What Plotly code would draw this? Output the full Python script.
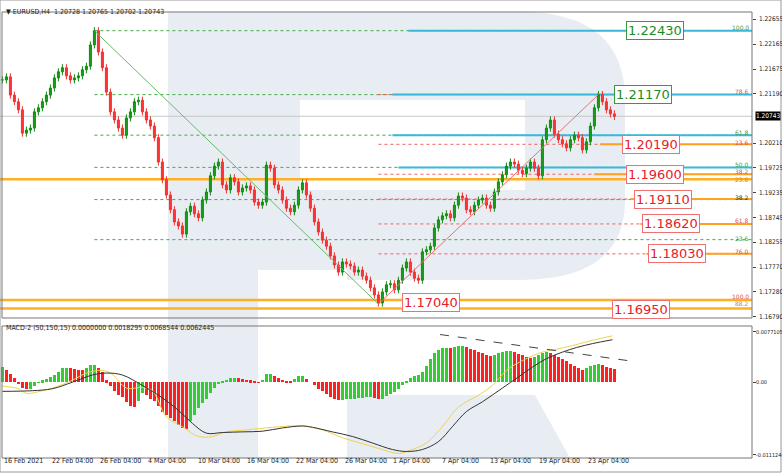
import plotly.graph_objects as go

W, H = 782, 473

# close prices, one every 8 hours (Feb 16 -> Apr 26 2021)
closes = [1.2146, 1.2152, 1.2116, 1.2103, 1.2087, 1.2041, 1.2047, 1.2051, 1.2083, 1.2091,
          1.2103, 1.2116, 1.2130, 1.2150, 1.2162, 1.2170, 1.2154, 1.2146, 1.2150, 1.2154,
          1.2166, 1.2173, 1.2215, 1.2243, 1.2201, 1.2170, 1.2122, 1.2083, 1.2067, 1.2051,
          1.2037, 1.2071, 1.2083, 1.2103, 1.2106, 1.2083, 1.2067, 1.2055, 1.2032, 1.1984,
          1.1949, 1.1919, 1.1890, 1.1866, 1.1858, 1.1842, 1.1886, 1.1897, 1.1882, 1.1874,
          1.1909, 1.1925, 1.1957, 1.1976, 1.1984, 1.1939, 1.1929, 1.1953, 1.1945, 1.1925,
          1.1933, 1.1937, 1.1929, 1.1905, 1.1899, 1.1905, 1.1978, 1.1972, 1.1939, 1.1929,
          1.1909, 1.1893, 1.1886, 1.1899, 1.1929, 1.1943, 1.1919, 1.1893, 1.1866, 1.1846,
          1.1830, 1.1818, 1.1799, 1.1781, 1.1767, 1.1787, 1.1783, 1.1779, 1.1767, 1.1771,
          1.1759, 1.1751, 1.1736, 1.1722, 1.1706, 1.1728, 1.1742, 1.1744, 1.1732, 1.1751,
          1.1775, 1.1787, 1.1767, 1.1755, 1.1751, 1.1807, 1.1811, 1.1818, 1.1854, 1.1870,
          1.1878, 1.1882, 1.1874, 1.1899, 1.1917, 1.1913, 1.1890, 1.1886, 1.1899, 1.1909,
          1.1913, 1.1899, 1.1893, 1.1925, 1.1945, 1.1959, 1.1976, 1.1984, 1.1980, 1.1968,
          1.1961, 1.1972, 1.1984, 1.1972, 1.1957, 1.2028, 1.2051, 1.2067, 1.2039, 1.2028,
          1.2020, 1.2012, 1.2028, 1.2037, 1.2032, 1.2008, 1.2024, 1.2055, 1.2091, 1.2117,
          1.2103, 1.2087, 1.2079, 1.2074]

# MACD histogram, same 8h steps
hist = [.0023, .0018, .0012, .0006, -.0003, -.0009, -.0011, -.0010, -.0006, -.0001,
        .0003, .0005, .0008, .0011, .0016, .0021, .0022, .0021, .0020, .0019,
        .0018, .0022, .0026, .0027, .0022, .0015, .0003, -.0006, -.0013, -.0019,
        -.0023, -.0030, -.0036, -.0038, -.0029, -.0017, -.0020, -.0025, -.0028, -.0036,
        -.0045, -.0050, -.0055, -.0060, -.0065, -.0070, -.0072, -.0060, -.0050, -.0040,
        -.0032, -.0025, -.0016, -.0009, -.0003, .0002, .0004, .0006, .0007, .0006,
        .0005, .0004, .0003, .0001, -.0001, .0004, .0012, .0013, .0009, .0007,
        .0004, .0002, .0001, .0005, .0009, .0009, .0005, .0000, -.0005, -.0010,
        -.0013, -.0018, -.0023, -.0025, -.0027, -.0027, -.0026, -.0026, -.0025, -.0024,
        -.0024, -.0023, -.0023, -.0024, -.0026, -.0025, -.0021, -.0018, -.0015, -.0010,
        -.0005, .0002, .0007, .0009, .0011, .0015, .0025, .0036, .0044, .0049,
        .0052, .0053, .0052, .0054, .0056, .0056, .0054, .0051, .0049, .0046,
        .0044, .0042, .0040, .0042, .0045, .0046, .0047, .0047, .0046, .0043,
        .0041, .0039, .0037, .0039, .0042, .0044, .0046, .0045, .0042, .0038,
        .0036, .0032, .0028, .0025, .0021, .0019, .0021, .0025, .0027, .0028,
        .0027, .0024, .0021, .0020]

macd_x = [0, 7.5, 12.5, 17.5, 22.5, 26, 30, 35, 40, 44, 47.5, 51, 55, 60, 65, 70, 75, 77.5,
          82.5, 87.5, 92.5, 97.5, 101, 105, 109, 112.5, 116, 120, 125, 129, 132.5, 136, 140,
          143.5, 147.5, 152.5]
macd_y = [-.0014, -.0013, -.0010, 0.0, .0011, .0014, .0011, -.0005, -.0024, -.0043, -.0063,
          -.0078, -.0077, -.0076, -.0075, -.0070, -.0067, -.0069, -.0076, -.0083, -.0093,
          -.0103, -.0106, -.0103, -.0091, -.0068, -.0045, -.0030, -.0009, .0008, .0023,
          .0036, .0046, .0053, .0059, .0065]
sig_x = [0, 4, 6, 10, 14, 17.5, 21, 25, 27.5, 31, 35, 37.5, 41, 45, 49, 52.5, 56, 61, 67.5,
         75, 80, 85, 90, 95, 99, 102.5, 106, 110, 114, 119, 122.5, 126, 130, 135, 139,
         142.5, 147.5, 152.5]
sig_y = [-.0006, -.0010, -.0017, -.0013, -.0006, .0003, .0014, .0018, .0012, -.0009, -.0008,
         -.0013, -.0053, -.0068, -.0083, -.0083, -.0076, -.0073, -.0069, -.0067, -.0073,
         -.0085, -.0094, -.0103, -.0109, -.0103, -.0093, -.0068, -.0038, -.0020, -.0005,
         .0018, .0033, .0046, .0051, .0056, .0064, .0071]
div_x = [109.4, 156.4]
div_y = [.0073, .0033]

date_pos = [0, 11.9, 23.9, 35.9, 48.4, 60.6, 72.9, 85.1, 97.1, 109.4, 121.4, 133.6, 145.9]
date_text = ["16 Feb 2021", "22 Feb 04:00", "26 Feb 04:00", "4 Mar 04:00", "10 Mar 04:00",
             "16 Mar 04:00", "22 Mar 04:00", "26 Mar 04:00", "1 Apr 04:00", "7 Apr 04:00",
             "13 Apr 04:00", "19 Apr 04:00", "23 Apr 04:00"]
price_ticks = [1.22655, 1.22165, 1.21675, 1.21190, 1.20210, 1.19725, 1.19235, 1.18745,
               1.18255, 1.17770, 1.17280, 1.16790]
price_labels = ["1.22655", "1.22165", "1.21675", "1.21190", "1.20210", "1.19725", "1.19235",
                "1.18745", "1.18255", "1.17770", "1.17280", "1.16790"]
macd_ticks = [0.0077105, 0, -0.011124]
macd_labels = ["0.0077105", "0.00", "-0.0111240"]

peak_i, peak_p = 23, 1.2243
low_i, low_p = 94, 1.1704
top_i, top_p = 149, 1.2117
last_price = 1.20743

green_fib = [1.2243, 1.2117, 1.2037, 1.19735, 1.1910, 1.1831, 1.1713]
red_fib = [1.2117, 1.2019, 1.1960, 1.1911, 1.1862, 1.1803]
cyan_lvls = [(1.2243, 101.5), (1.2117, 97.5), (1.2037, 97.5), (1.19735, 99)]
orange_lvls = [(1.2019, 149.5), (1.1960, 148), (1.1911, 157), (1.1862, 159.5),
               (1.1803, 161)]
orange_full = [1.1950, 1.1712, 1.1695]
boxes = [(1.2243, 156, "1.22430", "#1f8a1f", "#3a9a3a"),
         (1.2117, 153, "1.21170", "#1f8a1f", "#3a9a3a"),
         (1.2019, 155, "1.20190", "#e8202a", "#f07070"),
         (1.1960, 156, "1.19600", "#e8202a", "#f07070"),
         (1.1911, 158, "1.19110", "#e8202a", "#f07070"),
         (1.1862, 160, "1.18620", "#e8202a", "#f07070"),
         (1.1803, 161.5, "1.18030", "#e8202a", "#f07070"),
         (1.1693, 152.5, "1.16950", "#e8202a", "#f07070"),
         (1.1708, 100, "1.17040", "#e8202a", "#f07070")]
small = [(1.2249, "100.0", "#3a9a3a"), (1.2124, "78.6", "#e05050"), (1.2042, "61.8", "#3a9a3a"),
         (1.2022, "23.6", "#e05050"), (1.1980, "50.0", "#3a9a3a"), (1.1966, "38.2", "#e05050"),
         (1.1950, "23.6", "#e08a00"), (1.1914, "38.2", "#333333"), (1.1868, "61.8", "#e05050"),
         (1.1834, "23.6", "#3a9a3a"), (1.1807, "76.0", "#e05050"), (1.1718, "100.0", "#e05050"),
         (1.1706, "88.2", "#e08a00")]

opens = [closes[0]] + closes[:-1]
highs = [max(o, c) + 0.0007 for o, c in zip(opens, closes)]
lows = [min(o, c) - 0.0007 for o, c in zip(opens, closes)]
idx = list(range(len(closes)))
XEND = 187.4
SMALLFONT = "DejaVu Sans Condensed, Liberation Sans Narrow, DejaVu Sans"

fig = go.Figure()

def px(x, y):
    return x / W, 1 - y / H

shade = "#e8edf4"
shapes = []
def prect(x0, y0, x1, y1, color, layer="below", line=None):
    a, b = px(x0, y0)
    c, d = px(x1, y1)
    shapes.append(dict(type="rect", xref="paper", yref="paper", x0=a, y0=d, x1=c, y1=b,
                       fillcolor=color, line=line or dict(width=0), layer=layer))

# watermark "R"
prect(168, 12, 258, 458, shade)
bx0, by0 = px(258, 12)
bx1, by1 = px(560, 280)
shapes.append(dict(type="path", xref="paper", yref="paper", layer="below",
                   fillcolor=shade, line=dict(width=0),
                   path="M %f,%f L %f,%f Q %f,%f %f,%f L %f,%f Q %f,%f %f,%f L %f,%f Z" % (
                       bx0, by0, 520 / W, by0, 625 / W, by0, 625 / W, 1 - 100 / H,
                       625 / W, 1 - 200 / H, 625 / W, by1, 520 / W, by1, bx0, by1)))
prect(300, 100, 525, 190, "white")
prect(258, 270, 347, 320, "white")
a, b = px(347, 395)
shapes.append(dict(type="path", xref="paper", yref="paper", layer="below", fillcolor=shade,
                   line=dict(width=0),
                   path="M %f,%f L %f,%f L %f,%f L %f,%f Z" % (
                       a, b, 535 / W, b, 570 / W, 1 - 458 / H, a, 1 - 458 / H)))
prect(347, 280, 620, 320, "white")

def hline(p, x0, color, dash="solid", width=1):
    shapes.append(dict(type="line", xref="x", yref="y", x0=x0, x1=XEND, y0=p, y1=p,
                       line=dict(color=color, dash=dash, width=width), layer="below"))

for p in green_fib:
    hline(p, peak_i, "#44aa44", "dot")
for p in red_fib:
    hline(p, low_i, "#f06060", "dot")
for p, s in cyan_lvls:
    hline(p, s, "#3ab8dc", width=2)
for p, s in orange_lvls:
    hline(p, s, "#ffa020", width=2)
for p in orange_full:
    hline(p, -0.6, "#ffb020", width=2.5)
hline(last_price, -0.6, "#c8c8c8")

shapes.append(dict(type="line", xref="x", yref="y", x0=peak_i, y0=peak_p, x1=low_i, y1=low_p,
                   line=dict(color="#66bb66", width=1)))
shapes.append(dict(type="line", xref="x", yref="y", x0=low_i, y0=low_p, x1=top_i, y1=top_p,
                   line=dict(color="#f07070", width=1)))

# panel frames
prect(2, 12, 752, 318, "rgba(0,0,0,0)", "above", dict(color="#777", width=1))
prect(2, 326, 752, 458, "rgba(0,0,0,0)", "above", dict(color="#777", width=1))
prect(0, 0, 781, 472, "rgba(0,0,0,0)", "above", dict(color="#999", width=1))

fig.add_trace(go.Candlestick(x=idx, open=opens, high=highs, low=lows, close=closes,
                             increasing=dict(line=dict(color="#128a12", width=1), fillcolor="#1aa01a"),
                             decreasing=dict(line=dict(color="#f03030", width=1), fillcolor="#ff3535"),
                             whiskerwidth=0, showlegend=False, hoverinfo="skip"))

bar_cols = ["#33cc33" if i == 0 or hist[i] >= hist[i - 1] else "#ff2020" for i in range(len(hist))]
fig.add_trace(go.Bar(x=idx, y=hist, marker=dict(color=bar_cols, line=dict(width=0)),
                     width=0.8, xaxis="x2", yaxis="y2", showlegend=False))
fig.add_trace(go.Scatter(x=sig_x, y=sig_y, mode="lines", line=dict(color="#f2d24a", width=1),
                         line_shape="spline", xaxis="x2", yaxis="y2", showlegend=False))
fig.add_trace(go.Scatter(x=macd_x, y=macd_y, mode="lines", line=dict(color="#333333", width=1),
                         line_shape="spline", xaxis="x2", yaxis="y2", showlegend=False))
fig.add_trace(go.Scatter(x=div_x, y=div_y, mode="lines",
                         line=dict(color="#444444", width=1, dash="dash"),
                         xaxis="x2", yaxis="y2", showlegend=False))

ann = []
for p, x, t, fc, bc in boxes:
    ann.append(dict(x=x, y=p, xref="x", yref="y", text=t, showarrow=False, xanchor="left",
                    font=dict(size=13, color=fc, family="DejaVu Sans"), bgcolor="white",
                    bordercolor=bc, borderwidth=1, borderpad=1))
for p, t, c in small:
    ann.append(dict(x=XEND - 0.3, y=p, xref="x", yref="y", text=t, showarrow=False,
                    xanchor="right", font=dict(size=6, color=c)))
for p_, t in zip(date_pos, date_text):
    ann.append(dict(x=p_, y=1 - 467 / H, xref="x2", yref="paper", text=t, showarrow=False,
                    xanchor="left", font=dict(size=7, color="#222", family=SMALLFONT)))
# right-hand scale labels as text
for v, t in zip(price_ticks, price_labels):
    ann.append(dict(x=757 / W, y=v, xref="paper", yref="y", text=t, showarrow=False,
                    xanchor="left", font=dict(size=6.5, color="#222", family=SMALLFONT)))
for v, t in zip(macd_ticks, macd_labels):
    ann.append(dict(x=754 / W, y=v, xref="paper", yref="y2", text=t, showarrow=False,
                    xanchor="left", font=dict(size=5.5, color="#222", family=SMALLFONT)))
ann.append(dict(x=4 / W, y=1 - 6 / H, xref="paper", yref="paper", showarrow=False,
                xanchor="left", text="▼ EURUSD,H4  1.20728 1.20765 1.20702 1.20743",
                font=dict(size=7, color="#222", family=SMALLFONT)))
ann.append(dict(x=4 / W, y=1 - 334 / H, xref="paper", yref="paper", showarrow=False,
                xanchor="left", text="MACD-2 (50,150,15) 0.0000000 0.0018295 0.0068544 0.0062445",
                font=dict(size=7, color="#222", family=SMALLFONT)))
ann.append(dict(x=755 / W, y=last_price, xref="paper", yref="y", showarrow=False,
                xanchor="left", text="1.20743", bgcolor="black",
                font=dict(size=6.5, color="white", family=SMALLFONT), borderpad=0))

fig.update_layout(
    width=W, height=H, margin=dict(l=0, r=0, t=0, b=0),
    paper_bgcolor="white", plot_bgcolor="rgba(0,0,0,0)",
    font=dict(family="DejaVu Sans", size=8, color="#222"),
    shapes=shapes, annotations=ann, bargap=0,
    xaxis=dict(domain=[0, 752 / W], range=[-0.6, XEND], showticklabels=False, showgrid=False,
               zeroline=False, rangeslider=dict(visible=False), anchor="y"),
    xaxis2=dict(domain=[0, 752 / W], range=[-0.6, XEND], showticklabels=False, showgrid=False,
                zeroline=False, anchor="y2", matches="x"),
    yaxis=dict(domain=[1 - 318 / H, 1 - 12 / H], range=[1.16765, 1.22799], side="right",
               tickvals=price_ticks, showticklabels=False,
               showgrid=False, zeroline=False, ticks="outside", ticklen=3, anchor="x"),
    yaxis2=dict(domain=[1 - 458 / H, 1 - 326 / H], range=[-0.0116, 0.0086], side="right",
                tickvals=macd_ticks, showticklabels=False,
                showgrid=False, zeroline=False, ticks="outside", ticklen=3, anchor="x2"),
)

# the page's default body margin would push the chart 8px right
fig.write_html("out.html", config=dict(displayModeBar=False),
               post_script="document.body.style.margin='0';")
